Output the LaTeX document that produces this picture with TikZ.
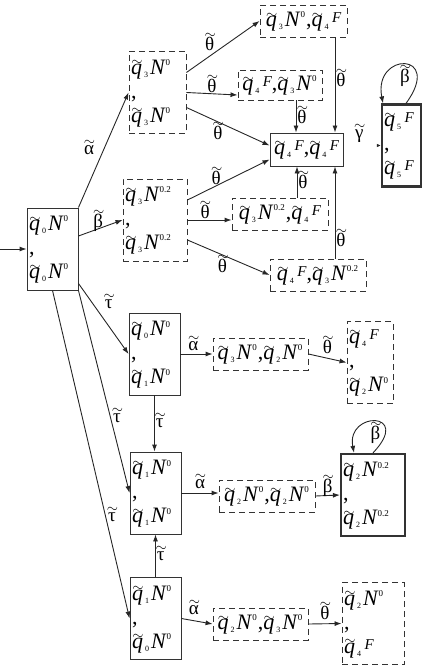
\documentclass[tikz,border=0pt]{standalone}
\usepackage{fontspec}
\setmainfont{Liberation Serif}
\usepackage{tikz}
\usetikzlibrary{arrows.meta,positioning,calc}
\tikzset{
  trarrow/.style={-{Latex[length=7pt,width=5pt]}, line width=0.9pt, draw=black!85},
  trlabel/.style={font=\fontsize{19}{19}\selectfont, inner sep=1pt}
}
% tilde set over a letter
\newcommand{\wv}[2]{\mbox{\ooalign{#1\cr\hidewidth\kern1pt\raisebox{#2}{$\scriptstyle\sim$}\hidewidth\cr}}}
\newcommand{\qs}[1]{\ensuremath{\wv{\itshape q}{8.5pt}\kern2pt_{\mbox{\fontsize{8}{8}\selectfont #1}}\kern1.5pt}}
\newcommand{\Ns}[1]{\ensuremath{{\mbox{\itshape N\kern1pt}}^{\mbox{\fontsize{9}{9}\selectfont #1}}\kern0.5pt}}
\newcommand{\Fs}{\mbox{\kern1.5pt\raisebox{4pt}{\fontsize{15}{15}\selectfont\itshape F}}}
\newcommand{\tl}[2][9pt]{\wv{#2}{#1}}

\begin{document}
\begin{tikzpicture}[x=1pt, y=-1pt,
  box/.style={draw=black!80, line width=0.9pt, inner sep=2pt, align=left,
    font=\fontsize{22}{24}\selectfont},
  solidbox/.style={box},
  dashbox/.style={box, dash pattern=on 6pt off 4pt},
  endbox/.style={box, line width=2.2pt},
  stack/.style={minimum height=82pt, text width=#1}
]
\useasboundingbox (0,0) rectangle (426,671);

% start state and first level
\coordinate (in) at (0,249);
\node[solidbox, stack=47pt] at (52.5,249) (q00) {\qs{0}\Ns{0}\\,\\\qs{0}\Ns{0}};
\node[dashbox, stack=53pt] at (157.5,92.5) (q33) {\qs{3}\Ns{0}\\,\\\qs{3}\Ns{0}};
\node[dashbox, stack=60pt] at (155,220) (q33b) {\qs{3}\Ns{0.2}\\,\\\qs{3}\Ns{0.2}};

% upper branch
\node[dashbox, minimum width=87pt, minimum height=32pt] at (303.5,21) (q34F) {\qs{3}\Ns{0},\qs{4}\Fs};
\node[dashbox, minimum width=84pt, minimum height=30pt] at (280,85) (q4F3) {\qs{4}\Fs,\qs{3}\Ns{0}};
\node[solidbox, minimum width=73pt, minimum height=33pt] at (306.5,149.5) (qFF) {\qs{4}\Fs,\qs{4}\Fs};
\node[dashbox, minimum width=96pt, minimum height=32pt] at (280,214) (q3b4F) {\qs{3}\Ns{0.2},\qs{4}\Fs};
\node[dashbox, minimum width=96pt, minimum height=32pt] at (318,275) (q4F3b) {\qs{4}\Fs,\qs{3}\Ns{0.2}};
\node[endbox, stack=35pt] at (401.5,145.5) (q5F) {\qs{5}\Fs\\,\\\qs{5}\Fs};

% lower branches
\node[solidbox, stack=47pt] at (154.5,354) (q01) {\qs{0}\Ns{0}\\,\\\qs{1}\Ns{0}};
\node[dashbox, minimum width=95pt, minimum height=32pt] at (260.5,354) (q32) {\qs{3}\Ns{0},\qs{2}\Ns{0}};
\node[dashbox, stack=42pt] at (370,362.5) (q4F2) {\qs{4}\Fs\\,\\\qs{2}\Ns{0}};
\node[solidbox, stack=47pt] at (155.5,493) (q11) {\qs{1}\Ns{0}\\,\\\qs{1}\Ns{0}};
\node[dashbox, minimum width=96pt, minimum height=32pt] at (267,496) (q22) {\qs{2}\Ns{0},\qs{2}\Ns{0}};
\node[endbox, stack=60pt] at (373,495) (q22b) {\qs{2}\Ns{0.2}\\,\\\qs{2}\Ns{0.2}};
\node[solidbox, stack=47pt] at (155.5,618.5) (q10) {\qs{1}\Ns{0}\\,\\\qs{0}\Ns{0}};
\node[dashbox, minimum width=95pt, minimum height=32pt] at (260.5,624) (q23) {\qs{2}\Ns{0},\qs{3}\Ns{0}};
\node[dashbox, stack=58pt] at (373,623.5) (q24F) {\qs{2}\Ns{0}\\,\\\qs{4}\Fs};

\draw[trarrow] (in) -- (q00.west);
\draw[trarrow] (q00.north east) -- node[trlabel, pos=0.5, left=8pt] {\tl{α}} (q33.west);
\draw[trarrow] ([yshift=13pt]q00.east) -- node[trlabel, above, pos=0.45] {\tl[12pt]{β}} (q33b.west);

\draw[trarrow] ([yshift=20pt]q33.east) -- node[trlabel, above left, pos=0.4] {\tl[12pt]{θ}} (q34F.west);
\draw[trarrow] (q33.east) -- node[trlabel, above] {\tl[12pt]{θ}} ([yshift=-10pt]q4F3.west);
\draw[trarrow] ([yshift=-15pt]q33.east) -- node[trlabel, below left, pos=0.45] {\tl[12pt]{θ}} ([yshift=4pt]qFF.west);
\draw[trarrow] ([yshift=20pt]q33b.east) -- node[trlabel, above, pos=0.35] {\tl[12pt]{θ}} ([yshift=-10pt]qFF.west);
\draw[trarrow] (q33b.east) -- node[trlabel, above, pos=0.4] {\tl[12pt]{θ}} (q33b.east -| q3b4F.west);
\draw[trarrow] ([yshift=-20pt]q33b.east) -- node[trlabel, below left, pos=0.5] {\tl[12pt]{θ}} (q4F3b.west);

\draw[trarrow] ([xshift=16pt]q4F3.south) -- node[trlabel, right] {\tl[12pt]{θ}} ([xshift=16pt]q4F3.south |- qFF.north);
\draw[trarrow] ([xshift=31.5pt]q34F.south) -- node[trlabel, right, pos=0.45] {\tl[12pt]{θ}} ([xshift=31.5pt]q34F.south |- qFF.north);
\draw[trarrow] ([xshift=17pt]q3b4F.north) -- node[trlabel, right] {\tl[12pt]{θ}} ([xshift=17pt]q3b4F.north |- qFF.south);
\draw[trarrow] ([xshift=17pt]q4F3b.north) -- node[trlabel, right, pos=0.2] {\tl[12pt]{θ}} ([xshift=17pt]q4F3b.north |- qFF.south);

\draw[-{Latex[length=4pt,width=3.5pt]}, line width=0.9pt, draw=black!85] ([xshift=-4pt]q5F.west) -- node[trlabel, pos=0, above left=6pt and 12pt] {\tl{γ}} (q5F.west);
\draw[trarrow] ([xshift=4.5pt]q5F.north) .. controls +(38,-52) and +(-10,-52) .. node[trlabel, below=3pt] {\tl[12pt]{β}} ([xshift=-18.5pt]q5F.north);

\draw[trarrow] ([yshift=7pt]q00.south east) -- node[trlabel, pos=0.3, right=10pt] {\tl{τ}} (q01.west);
\draw[trarrow] (q00.south east) -- node[trlabel, pos=0.63, right=1pt] {\tl{τ}} (q11.west);
\draw[trarrow] (q00.south) -- node[trlabel, pos=0.69, right=1pt] {\tl{τ}} (q10.west);

\draw[trarrow] (q01.east) -- node[trlabel, above=2pt, pos=0.4] {\tl{α}} (q32.west);
\draw[trarrow] (q32.east) -- node[trlabel, above=3pt] {\tl[12pt]{θ}} (q4F2.west);
\draw[trarrow] (q01.south) -- node[trlabel, right] {\tl{τ}} (q01.south |- q11.north);

\draw[trarrow] (q11.east) -- node[trlabel, above=3pt] {\tl{α}} (q11.east -| q22.west);
\draw[trarrow] (q22.east) -- node[trlabel, above=2pt] {\tl[12pt]{β}} (q22b.west);
\draw[trarrow] (q22b.north) .. controls +(40,-42) and +(-8,-42) .. node[trlabel, below=3pt] {\tl[12pt]{β}} ([xshift=-19pt]q22b.north);

\draw[trarrow] (q10.north) -- node[trlabel, right] {\tl{τ}} (q10.north |- q11.south);
\draw[trarrow] (q10.east) -- node[trlabel, above=5pt, pos=0.4] {\tl{α}} (q23.west);
\draw[trarrow] (q23.east) -- node[trlabel, above=3pt] {\tl[12pt]{θ}} (q24F.west);
\end{tikzpicture}
\end{document}
